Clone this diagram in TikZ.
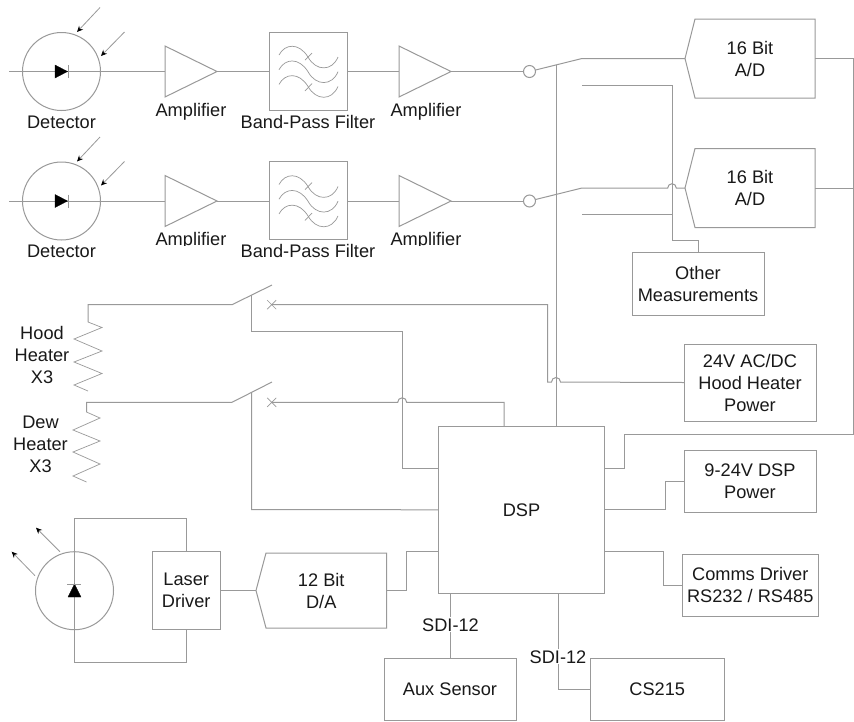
\documentclass[tikz,border=0pt]{standalone}
\usepackage{fontspec}
\setmainfont{Liberation Sans}
\usetikzlibrary{arrows.meta,calc}
\definecolor{wire}{gray}{0.6}
\definecolor{ink}{gray}{0.1}
\tikzset{
  wireline/.style={draw=wire,line width=1pt,line join=miter},
  thinline/.style={draw=wire,line width=0.7pt},
  box/.style={wireline,rectangle,inner sep=0pt,outer sep=0pt,align=center,text=ink,font=\fontsize{18.2}{22}\selectfont},
  ghost/.style={rectangle,inner sep=0pt,outer sep=0pt,align=center,text=ink,font=\fontsize{18.2}{22}\selectfont},
  lbl/.style={inner sep=0pt,outer sep=0pt,align=center,text=ink,font=\fontsize{18.2}{22}\selectfont},
  cutlbl/.style={lbl,fill=white,inner sep=1pt},
  ray/.style={draw=wire,line width=0.8pt,-{Stealth[length=6pt,width=5.5pt,black]}},
  ring/.style={circle,wireline,inner sep=0pt,outer sep=0pt},
  diode/.style={fill=black,draw=black,line width=0.3pt},
}
\newcommand{\convshape}[1]{\draw[wireline] (#1.west) -- ([xshift=10pt]#1.north west) -- (#1.north east) -- (#1.south east) -- ([xshift=10pt]#1.south west) -- cycle;}
\newcommand{\xmark}[1]{\draw[thinline] ($(#1)+(-4.5,-4.5)$) -- ($(#1)+(4.5,4.5)$) ($(#1)+(-4.5,4.5)$) -- ($(#1)+(4.5,-4.5)$);}
\begin{document}
\begin{tikzpicture}[x=1pt,y=-1pt]
\useasboundingbox (0,0) rectangle (854,721);
\fill[white] (0,0) rectangle (854,721);

% Detector rows
\foreach \r/\y in {1/71.5,2/201}{
  \begin{scope}[shift={(0,\y)}]
    \node[ring,minimum size=78pt] (det\r) at (61.5,0) {};
    \coordinate (in\r) at (9,0);
    \coordinate (ampAin\r) at (165,0);
    \coordinate (ampAout\r) at (217,0);
    \coordinate (ampBin\r) at (399,0);
    \coordinate (ampBout\r) at (451,0);
    \node[box,draw,minimum width=78pt,minimum height=78pt] (bpf\r) at (308,-0.5) {};
    \node[ring,minimum size=12pt] (sw\r) at (529.5,0) {};
    \draw[wireline] (ampAin\r) -- (165,-25.5) -- (ampAout\r) -- (165,25.5) -- cycle;
    \draw[wireline] (ampBin\r) -- (399,-25.5) -- (ampBout\r) -- (399,25.5) -- cycle;
    \draw[wireline] (in\r) -- (ampAin\r);
    \draw[wireline] (ampAout\r) -- (bpf\r.west |- ampAout\r);
    \draw[wireline] (bpf\r.east |- ampBin\r) -- (ampBin\r);
    \draw[wireline] (ampBout\r) -- (sw\r);
    \fill[diode] (55,-6.5) -- (67.5,0) -- (55,6.5) -- cycle;
    \draw[wireline] (68,-6.5) -- (68,6.5);
    \coordinate (rayA\r) at (100,-64);
    \coordinate (rayAe\r) at (77,-39.5);
    \coordinate (rayB\r) at (124.5,-39.5);
    \coordinate (rayBe\r) at (101,-15.5);
    \draw[ray] (rayA\r) -- (rayAe\r);
    \draw[ray] (rayB\r) -- (rayBe\r);
    \foreach \k in {0,14.7,29.4}{
      \draw[thinline] (279,-16.5+\k) .. controls (285,-28+\k) and (299,-29+\k) .. (308,-14.5+\k)
        .. controls (316,0+\k) and (332,0+\k) .. (338,-14.5+\k);
    }
    \draw[thinline] (305,-11.5) -- (312,-18.5);
    \draw[thinline] (305,19.5) -- (312,12);
  \end{scope}
}
\node[lbl,anchor=base] (ldet1) at (61.5,128.3) {Detector};
\node[lbl,anchor=base] (ldet2) at (61.5,257.7) {Detector};
\node[lbl,anchor=base] (lamp1) at (191,116) {Amplifier};
\node[lbl,anchor=base] (lamp2) at (191,245) {Amplifier};
\node[lbl,anchor=base] (lamp3) at (426,116) {Amplifier};
\node[lbl,anchor=base] (lamp4) at (426,245) {Amplifier};
% the reference crops the descenders of the lower amplifier labels
\fill[white] (150,245.6) rectangle (235,252);
\fill[white] (385,245.6) rectangle (470,252);
\node[lbl,anchor=base] (lbpf1) at (308,128.3) {Band-Pass Filter};
\node[lbl,anchor=base] (lbpf2) at (308,257.7) {Band-Pass Filter};

% Converters
\node[ghost,minimum width=130pt,minimum height=79pt] (ad1) at (750,58.5) {16 Bit\\A/D};
\node[ghost,minimum width=130pt,minimum height=79pt] (ad2) at (750,188) {16 Bit\\A/D};
\node[ghost,minimum width=130.5pt,minimum height=75pt] (da) at (321.25,590.5) {12 Bit\\D/A};
\convshape{ad1}
\convshape{ad2}
\convshape{da}

% Boxes
\node[box,draw,minimum width=132pt,minimum height=63pt] (other) at (698,283.5) {Other\\Measurements};
\node[box,draw,minimum width=132pt,minimum height=77pt] (hpow) at (750,382.5) {24V AC/DC\\Hood Heater\\Power};
\node[box,draw,minimum width=132pt,minimum height=62pt] (dpow) at (750,481) {9-24V DSP\\Power};
\node[box,draw,minimum width=135.5pt,minimum height=62pt] (comms) at (750.25,585.2) {Comms Driver\\RS232 / RS485};
\node[box,draw,minimum width=166.5pt,minimum height=167pt] (dsp) at (521.5,509.8) {DSP};
\node[box,draw,minimum width=132pt,minimum height=62pt] (aux) at (450,689) {Aux Sensor};
\node[box,draw,minimum width=133.5pt,minimum height=62pt] (cs) at (657.25,689) {CS215};
\node[box,draw,minimum width=67.5pt,minimum height=78pt] (ldrv) at (186.25,590.5) {Laser\\Driver};
\node[ring,minimum size=78pt] (laser) at (74.5,590.7) {};

% Input multiplexer arms and A/D wiring
\coordinate (armA) at (582,58.5);
\coordinate (armB) at (582,188);
\coordinate (pinA) at (582,85);
\coordinate (pinB) at (582,214.5);
\coordinate (busT) at (672,85);
\coordinate (busB) at (672,240);
\coordinate (rrail) at (853.5,58.5);
\coordinate (rbot) at (853.5,434.5);
\draw[wireline] (sw1) -- (armA) -- (ad1.west);
\draw[wireline] (sw2) -- (armB) -- (667.7,188) arc[start angle=180,end angle=0,radius=4.3pt] -- (ad2.west);
\draw[wireline] (pinA) -- (busT) -- (busB) -| (other.north);
\draw[wireline] (pinB) -- (672,214.5);
\draw[wireline] (ad1.east) -- (rrail) -- (rbot) -- (624,434.5) |- (dsp.east |- 0,468);
\draw[wireline] (ad2.east) -- (rrail |- ad2.east);

% DSP control line to switches
\coordinate (ctl) at (556,65);
\draw[wireline] (ctl) -- (ctl |- dsp.north);

% Heaters
\coordinate (hx) at (271.7,304.7);
\coordinate (dx) at (271.7,402.3);
\coordinate (harm) at (232,304.7);
\coordinate (darm) at (232,402.3);
\draw[wireline] (88,322) -- (88,304.7) -- (harm) -- (272,285);
\draw[wireline] (86.5,412) -- (86.5,402.3) -- (darm) -- (272,382);
\draw[thinline] (88,322) -- (102,327.5) -- (74,339) -- (102,351) -- (74,362) -- (102,373.5) -- (74,385) -- (88,391);
\draw[thinline] (86.5,412) -- (100,418) -- (73,430) -- (100,441) -- (73,452) -- (100,464) -- (73,476) -- (86.5,482);
\xmark{hx}
\xmark{dx}
\node[lbl] (lhood) at (42,354.5) {Hood\\Heater\\X3};
\node[lbl] (ldew) at (40.5,444.8) {Dew\\Heater\\X3};

\draw[wireline] (hx) -- (547.7,304.7) -- (547.7,382) -- (551.5,382) arc[start angle=180,end angle=0,radius=4.5pt] -- (hpow.west);
\draw[wireline] (dx) -- (397.7,402.3) arc[start angle=180,end angle=0,radius=4.5pt] -- (504,402.3) -- (504,426.3);
\draw[wireline] (251.7,295) -- (251.7,331) -- (402,331) -- (402,468) -- (dsp.west |- 0,468);
\draw[wireline] (251.7,392) -- (251.7,509.5) -- (dsp.west);

% DSP peripherals
\draw[wireline] (dsp.east) -- (665,509.8) |- (dpow.west);
\draw[wireline] (dsp.east |- 0,551.3) -- (663.5,551.3) |- (comms.west);
\draw[wireline] (dsp.south -| aux.north) -- (aux.north);
\draw[wireline] (558,593.3) |- (cs.west);
\node[cutlbl,anchor=base] (sdiA) at (450.5,631) {SDI-12};
\node[cutlbl,anchor=base] (sdiB) at (558,663) {SDI-12};

% Laser
\draw[wireline] (ldrv.north) -- (186.25,518.5) -- (74,518.5) -- (74,662.5) -- (186.25,662.5) -- (ldrv.south);
\fill[diode] (68,597) -- (81,597) -- (74.5,584) -- cycle;
\draw[wireline] (67,584) -- (81,584);
\draw[ray] (60,551.7) -- (36,527.7);
\draw[ray] (35,575.7) -- (11.7,551.7);
\draw[wireline] (ldrv.east) -- (da.west);
\draw[wireline] (da.east) -- (406,590.5) -- (406,551.3) -- (dsp.west |- 0,551.3);
\end{tikzpicture}
\end{document}
